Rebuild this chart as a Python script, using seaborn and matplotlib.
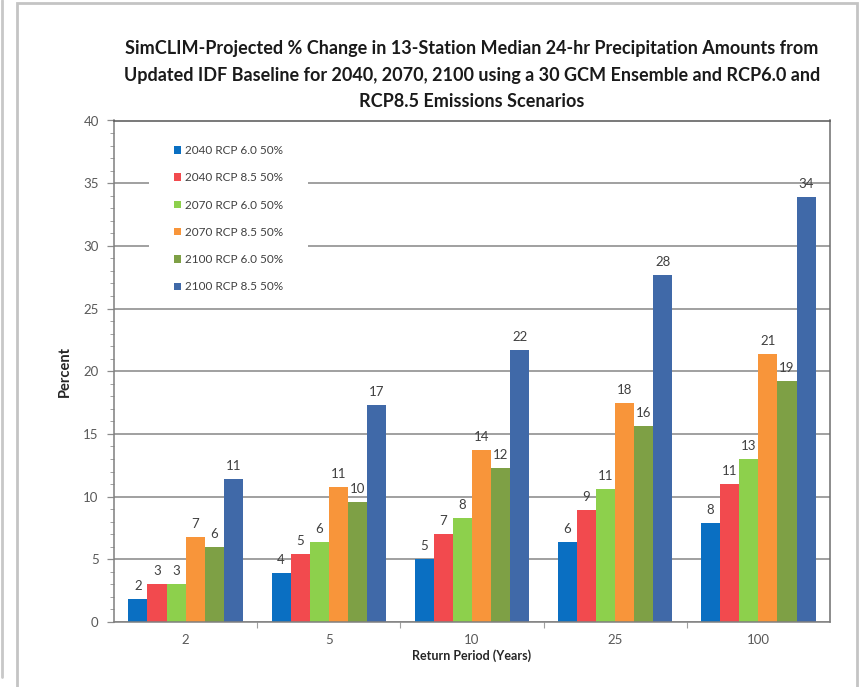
import matplotlib
matplotlib.use("Agg")
import matplotlib.pyplot as plt
from matplotlib.patches import Rectangle
from matplotlib.lines import Line2D
from matplotlib.ticker import MultipleLocator, FixedLocator, NullFormatter
import seaborn as sns
import pandas as pd

# Return periods (years) on the x axis
periods = ["2", "5", "10", "25", "100"]

# Scenario names, in legend order
scenarios = [
    "2040 RCP 6.0 50%",
    "2040 RCP 8.5 50%",
    "2070 RCP 6.0 50%",
    "2070 RCP 8.5 50%",
    "2100 RCP 6.0 50%",
    "2100 RCP 8.5 50%",
]

# Median % change in 24-hr precipitation for each scenario, by return period
pct_2040_rcp60 = [1.8, 3.9, 5.0, 6.4, 7.9]
pct_2040_rcp85 = [3.0, 5.4, 7.0, 8.9, 11.0]
pct_2070_rcp60 = [3.0, 6.4, 8.3, 10.6, 13.0]
pct_2070_rcp85 = [6.8, 10.8, 13.7, 17.5, 21.4]
pct_2100_rcp60 = [6.0, 9.6, 12.3, 15.6, 19.2]
pct_2100_rcp85 = [11.4, 17.3, 21.7, 27.7, 33.9]

colors = ["#0A6FC2", "#F24A4E", "#8DD04C", "#F8953A", "#7EA045", "#4069A8"]

series_values = [pct_2040_rcp60, pct_2040_rcp85, pct_2070_rcp60,
                 pct_2070_rcp85, pct_2100_rcp60, pct_2100_rcp85]
rows = []
for name, vals in zip(scenarios, series_values):
    for p, v in zip(periods, vals):
        rows.append({"Return Period": p, "Scenario": name, "Percent": v})
df = pd.DataFrame(rows)

sns.set_theme(style="white")
plt.rcParams["font.family"] = ["Lato", "DejaVu Sans"]

W, H = 861, 687
AX_L, AX_R, AX_T, AX_B = 114, 830, 120.5, 622
fig = plt.figure(figsize=(W / 100, H / 100), dpi=100)
ax = fig.add_axes([AX_L / W, 1 - AX_B / H, (AX_R - AX_L) / W, (AX_B - AX_T) / H])

sns.barplot(data=df, x="Return Period", y="Percent", hue="Scenario",
            order=periods, hue_order=scenarios, palette=colors,
            width=0.8, gap=0, errorbar=None, saturation=1,
            linewidth=0, ax=ax)

ax.set_ylim(0, 40)
ax.set_xlim(-0.5, len(periods) - 0.5)
ax.yaxis.set_major_locator(MultipleLocator(5))
ax.yaxis.set_minor_locator(MultipleLocator(1))
ax.grid(axis="y", which="major", color="#868686", linewidth=1.1)
ax.set_axisbelow(True)

for side in ["left", "bottom", "right", "top"]:
    ax.spines[side].set_visible(True)
    ax.spines[side].set_color("#7F7F7F")
    ax.spines[side].set_linewidth(1.1)
ax.spines["top"].set_color("#555555")
ax.spines["right"].set_color("#6E6E6E")

ax.tick_params(axis="y", which="major", left=True, length=5, width=0.9,
               color="#8C8C8C", labelsize=9.5, labelcolor="#595959", pad=6)
ax.tick_params(axis="y", which="minor", left=True, length=3, width=0.7,
               color="#A0A0A0")
# x ticks sit between the groups, labels at group centres
ax.xaxis.set_minor_locator(FixedLocator([i + 0.5 for i in range(len(periods) - 1)]))
ax.xaxis.set_minor_formatter(NullFormatter())
ax.tick_params(axis="x", which="major", bottom=False, length=0,
               labelsize=9.5, labelcolor="#595959", pad=9)
ax.tick_params(axis="x", which="minor", bottom=True, length=4, width=0.8,
               color="#A0A0A0")

ax.set_xlabel("Return Period (Years)", fontsize=9, fontweight="bold",
              color="#262626", labelpad=2)
ax.set_ylabel("Percent", fontsize=10.5, fontweight="bold",
              color="#262626", labelpad=8)

for cont in ax.containers:
    ax.bar_label(cont, fmt="%.0f", padding=5, fontsize=9.5, color="#404040")

# White panel behind the legend, interrupting the upper gridlines
ax_w, ax_h = AX_R - AX_L, AX_B - AX_T
ax.add_patch(Rectangle(((149 - AX_L) / ax_w, 1 - (300 - AX_T) / ax_h),
                       (308 - 149) / ax_w, (300 - 132) / ax_h,
                       transform=ax.transAxes, facecolor="white",
                       edgecolor="none", zorder=0.8))

handles, labels = ax.get_legend_handles_labels()
if ax.get_legend() is not None:
    ax.get_legend().remove()
leg = ax.legend(handles, labels, loc="upper left",
                bbox_to_anchor=((174 - AX_L) / ax_w, 1 - (145 - AX_T) / ax_h),
                frameon=False, fontsize=8.5,
                handlelength=0.6, handleheight=0.6, handletextpad=0.35,
                labelspacing=1.38, borderpad=0, borderaxespad=0)
for t in leg.get_texts():
    t.set_color("#404040")

fig.text(472 / W, 1 - 75 / H,
         "SimCLIM-Projected % Change in 13-Station Median 24-hr Precipitation Amounts from\n"
         "Updated IDF Baseline for 2040, 2070, 2100 using a 30 GCM Ensemble and RCP6.0 and\n"
         "RCP8.5 Emissions Scenarios",
         ha="center", va="center", fontsize=13, fontweight="bold",
         color="#1A1A1A", linespacing=1.7)

# Outer chart frame and page edge line
fig.patches.append(Rectangle((17 / W, -0.01), (857 - 17) / W, 1 - 3 / H + 0.01,
                             transform=fig.transFigure, fill=False,
                             edgecolor="#C4C4C4", linewidth=2))
fig.lines.append(Line2D([2 / W, 2 / W], [1 - 677 / H, 1], transform=fig.transFigure,
                        color="#C8C8C8", linewidth=2))

fig.savefig("out.png", dpi=100, facecolor="white")
